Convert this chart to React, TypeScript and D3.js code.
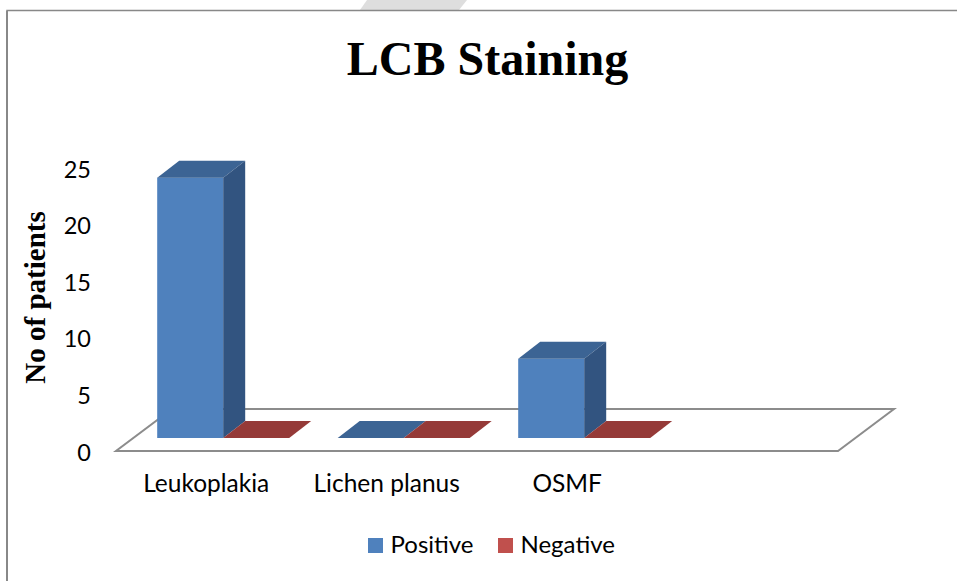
import React from "react";
import * as d3 from "d3";

const categories = ["Leukoplakia", "Lichen planus", "OSMF", ""];
const positive = [23, 0, 7, null];
const negative = [0, 0, 0, null];
const yTicks = [0, 5, 10, 15, 20, 25];
const legendItems = ["Positive", "Negative"];

const W = 957, H = 581;
const floorX0 = 116, floorX1 = 838, floorFrontY = 451;
const floorDx = 57, floorDy = 42;
const barBaseY = 438;
const depthDx = 22, depthDy = 17;
const x = d3.scaleBand<string>().domain(categories).range([floorX0, floorX1]);
const y = d3.scaleLinear().domain([0, 25]).range([barBaseY, barBaseY - 283]);
const barW = 66;
const groupOffset = 41.2;

const pal = {
  Positive: { front: "#4f81bd", top: "#3c6494", side: "#325480", key: "#4f81bd" },
  Negative: { front: "#c0504d", top: "#953a38", side: "#7e312f", key: "#c0504d" },
};

const poly = (p: number[][]) => p.map((q) => q.join(",")).join(" ");
const sans = "Lato, 'Open Sans', sans-serif";
const serif = "'Liberation Serif', serif";

function Bar({ bx, value, c }: { bx: number; value: number; c: typeof pal.Positive }) {
  const yt = y(value), x1 = bx + barW;
  return (
    <g>
      {value > 0 && <rect x={bx} y={yt} width={barW} height={barBaseY - yt} fill={c.front} />}
      <polygon points={poly([[bx, yt], [x1, yt], [x1 + depthDx, yt - depthDy], [bx + depthDx, yt - depthDy]])} fill={c.top} />
      {value > 0 && (
        <polygon points={poly([[x1, yt], [x1 + depthDx, yt - depthDy], [x1 + depthDx, barBaseY - depthDy], [x1, barBaseY]])} fill={c.side} />
      )}
    </g>
  );
}

export default function App() {
  const floor = [
    [floorX0, floorFrontY],
    [floorX1, floorFrontY],
    [floorX1 + floorDx - 1, floorFrontY - floorDy],
    [floorX0 + floorDx - 1, floorFrontY - floorDy],
  ];
  return (
    <svg width={W} height={H} style={{ position: "absolute", left: 0, top: 0, display: "block", background: "#fff" }}>
      <polygon points={poly([[367, 0], [467, 0], [459, 10], [360, 10]])} fill="#dedede" />
      <path d={`M7,${H}V10.5H${W}`} fill="none" stroke="#888" strokeWidth={1.5} />
      <path d={`M7,11V${H}`} fill="none" stroke="#888" strokeWidth={2} />
      <text x={487.5} y={75} textAnchor="middle" fontFamily={serif} fontWeight="bold" fontSize={48}>LCB Staining</text>
      <text transform="translate(44.5,297.5) rotate(-90)" textAnchor="middle" fontFamily={serif} fontWeight="bold" fontSize={29}>No of patients</text>
      {yTicks.map((t) => (
        <text key={t} x={91} y={y(t) + 13 + 9.5} textAnchor="end" fontFamily={sans} fontSize={23.5}>{t}</text>
      ))}
      <polygon points={poly(floor)} fill="#fff" stroke="#8c8c8c" strokeWidth={2} />
      {categories.map((cat, i) => {
        const bx = (x(cat) as number) + groupOffset;
        return (
          <g key={i}>
            {positive[i] !== null && <Bar bx={bx} value={positive[i] as number} c={pal.Positive} />}
            {negative[i] !== null && <Bar bx={bx + barW} value={negative[i] as number} c={pal.Negative} />}
            {cat && (
              <text x={bx + barW - 17} y={492} textAnchor="middle" fontFamily={sans} fontSize={24.5}>{cat}</text>
            )}
          </g>
        );
      })}
      {legendItems.map((name, i) => {
        const lx = i === 0 ? 368 : 498;
        return (
          <g key={name}>
            <rect x={lx} y={538} width={15} height={15} fill={pal[name as keyof typeof pal].key} />
            <text x={lx + 22.5} y={553} fontFamily={sans} fontSize={24}>{name}</text>
          </g>
        );
      })}
    </svg>
  );
}
